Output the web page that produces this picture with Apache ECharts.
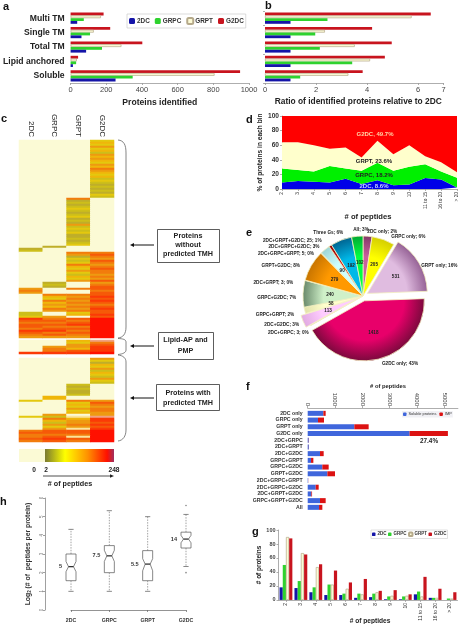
<!DOCTYPE html>
<html><head><meta charset="utf-8">
<style>html,body{margin:0;padding:0;background:#fff}#c{width:461px;height:624px}</style>
<script src="https://cdn.jsdelivr.net/npm/echarts@6/dist/echarts.min.js"></script>
</head><body><div id="c"></div>
<script>
// ---------- data ----------
const groupNames = ['2DC','GRPC','GRPT','G2DC'];
const typeCats = ['Soluble','Lipid anchored','Total TM','Single TM','Multi TM'];
const a2DC  = [252,13,87,61,37];
const aGRPC = [348,31,176,109,74];
const aGRPT = [807,35,285,130,170];
const aG2DC = [950,42,402,222,185];
const b2DC  = [1,1,1,1,1];
const bGRPC = [1.38,3.42,2.15,1.97,2.45];
const bGRPT = [3.27,4.12,3.52,2.35,5.75];
const bG2DC = [3.83,4.7,4.97,4.2,6.5];

// heat map rows, top to bottom; one character per column (2DC GRPC GRPT G2DC), '-' = blank
const heatRows = ('0003 0004 0003 0005 0003 0004 0002 0005 0004 0005 0004 0003 0005 0004 0006 0005 0004 0003 0004 0002 0003 0002 0001 0002 0001 0002 0001 0003 0002 '+
 '0060 0010 0020 0010 0020 0030 0020 0010 0020 0030 0010 0020 0010 0050 0020 0030 0020 0030 0010 0010 0020 0010 0020 0030 '+
 '0100 1000 2000 '+
 '0066 0057 0016 0035 0027 0036 0065 0046 0037 0056 0036 0025 0046 0035 0057 '+
 '0105 0206 0107 5067 6006 5007 '+
 '0667 0458 0367 0658 0467 0556 0467 0658 0567 2037 2048 3507 '+
 '8679 7769 6679 7789 7669 6779 8869 7679 6769 5559 ---- '+
 '004a 0036 0057 0558 0648 0678 8889 ---- ---- '+
 '0005 0003 0001 0004 0003 0005 0002 0004 0003 0002 0005 0003 0002 '+
 '0020 0010 0020 0010 0010 0020 0400 0400 '+
 '3065 0037 0046 0035 0056 0036 0045 0505 32ba '+
 '0648 0458 0257 0568 0357 05b8 6779 7779 6669 67b9 7879 6769').split(' ');
const heatLevels = '0123456789ab';
const heatColors = ['#FBFAD5','#BFAE2A','#CDBE1A','#E4C80E','#EFB60A','#EE9A10','#F27C0C','#F65A08','#FB3A06','#FF1000','#F0A080','#FBE49A'];

const binCats = ['2','3','4','5','6','7','8','9','10','11 to 15','16 to 20','> 20'];
const d2DC  = [9,11,10,9,14,7,12,5,6,15,13,2];
const dGRPC = [19,15,14,22.5,14,18,24,20,24.5,19,11,13.5];
const dGRPT = [36,38,36,23.5,29,18,30,22.5,29.5,11,12.5,7.5];
const dG2DC = [36,36,40,45,43,57,34,52.5,40,55,63.5,77];
const dNotes = ['G2DC, 49.7%','GRPT, 23.6%','GRPC, 18.2%','2DC, 8.6%'];

const pieNames = ['2DC only','GRPC only','GRPT only','G2DC only','2DC+GRPC','2DC+G2DC','GRPC+GRPT','GRPC+G2DC','2DC+GRPT','GRPT+G2DC','2DC+GRPC+GRPT','2DC+GRPC+G2DC','2DC+GRPT+G2DC','Three Gs','All'];
const pieValues = [81,205,531,1418,3,113,58,240,3,279,5,90,25,192,102];
const pieCaptions = ['2DC only; 2%','GRPC only; 6%','GRPT only; 16%','G2DC only; 43%','2DC+GRPC; 3; 0%','2DC+G2DC; 3%','GRPC+GRPT; 2%','GRPC+G2DC; 7%','2DC+GRPT; 3; 0%','GRPT+G2DC; 8%','2DC+GRPC+GRPT; 5; 0%','2DC+GRPC+G2DC; 3%','2DC+GRPT+G2DC; 25; 1%','Three Gs; 6%','All; 3%'];

const setCats = ['2DC only','GRPC only','GRPT only','G2DC only','2DC+GRPC','2DC+GRPT','2DC+G2DC','GRPC+GRPT','GRPC+G2DC','GRPT+G2DC','2DC+GRPC+GRPT','2DC+GRPC+G2DC','2DC+GRPT+G2DC','GRPC+GRPT+G2DC','All'];
const fSoluble = [573,378,1707,3732,37,40,450,122,536,720,15,293,134,450,415];
const fIMP     = [85,220,525,1402,8,5,135,85,232,280,5,109,26,208,121];

const g2DC  = [18,17,11,7,7,3,4,1,1,8,3,0];
const gGRPC = [50,27,18,22,9,9,9,5,5,12,3,2];
const gGRPT = [90,67,47,22,16,8,11,6,6,5,3,2];
const gG2DC = [88,65,51,42,25,30,13,14,8,33,16,11];

// pos, low, q1, notch low, median, notch high, q3, high
const boxData = [
 [1,1,1.57,2.05,2.32,2.6,3,4.32],
 [2,1,2,2.6,2.9,3.2,3.45,5.32],
 [3,1,1.57,2.1,2.46,2.75,3.18,5],
 [4,2.33,3.32,3.6,3.8,4,4.17,5.12]
];
const boxOutliers = [[4,5.6],[4,2]];
const boxMedianText = ['5','7.5','5.5','14'];

// ---------- styles and layout ----------
const FF = '"Liberation Sans", Arial, sans-serif';
const barCol = {'2DC':'#1414A8','GRPC':'#2ED22E','GRPT':'#FDFBD6','G2DC':'#C8141E'};
const areaCol = {'2DC':'#0000E8','GRPC':'#00F000','GRPT':'#FFFFCC','G2DC':'#FF0000'};
const pieStyles = [['#C8609C','#6E2C58'],['#FFFF00','#C8C000'],['#E0BCE0','#804880'],['#E8006A','#5C0C30'],['#999','#666'],['#FFCCFF','#D8A0D8'],['#FFFFCC','#D8D8A0'],['#CFF0C8','#4C6C50'],['#999','#666'],['#FF9900','#B86A00'],['#CCC','#888'],['#CCFFFF','#90C8C8'],['#D81010','#800808'],['#00B8E8','#004C78'],['#00FF40','#009030']];
const pieExploded = {'GRPT only':5,'G2DC only':5,'2DC+G2DC':4};
const PC = {x:363,y:296,r:60};
const pieCaptionPos = [[382.3,231.3],[408.3,236.7],[439.3,265.3],[400,363.7],[288.3,333],[281.7,324.7],[275,315],[276.7,297.3],[273.3,282.3],[280.7,266],[286,253.3],[294,246.3],[292.3,240.7],[328.3,233],[361,229.7]];
const dNotePos = [[375,134],[374,161],[374,175],[374,186]];
const dNoteCol = ['#FFD8A8','#222','#222','#C8D0FF'];

function barSeries(names, arrays, xi, yi, bw){
  return names.map((n,i)=>({
    name:n,type:'bar',xAxisIndex:xi,yAxisIndex:yi,data:arrays[i],barWidth:bw,barGap:0,
    itemStyle:{color:barCol[n],borderColor:n==='GRPT'?'#B5A98A':barCol[n],borderWidth:n==='GRPT'?0.7:0},
    silent:true
  }));
}
const axisGray = {lineStyle:{color:'#999',width:0.8}};
function numAxis(grid,opt){
  return Object.assign({type:'value',gridIndex:grid,splitLine:{show:false},axisLine:{show:true,...axisGray},
    axisTick:{show:true,length:2,...axisGray},axisLabel:{fontSize:7.5,color:'#444',margin:3,fontFamily:FF,formatter:v=>String(v)}},opt);
}
function catAxis(grid,cats,opt){
  return Object.assign({type:'category',gridIndex:grid,data:cats,axisLine:{show:true,...axisGray},
    axisTick:{show:true,length:2,...axisGray},axisLabel:{fontSize:5,color:'#333',margin:2,fontFamily:FF,interval:0}},opt);
}
function T(x,y,text,size,fill,align,weight){
  return {type:'text',silent:true,z:50,style:{x,y,text,fill:fill||'#222',font:(weight||'bold')+' '+size+'px '+FF,align:align||'center',verticalAlign:'middle'}};
}
function L(x1,y1,x2,y2,c,w){return {type:'line',silent:true,shape:{x1,y1,x2,y2},style:{stroke:c||'#222',lineWidth:w||1}};}
function B(x1,y1,cpx1,cpy1,cpx2,cpy2,x2,y2){return {type:'bezierCurve',silent:true,shape:{x1,y1,cpx1,cpy1,cpx2,cpy2,x2,y2},style:{stroke:'#666',lineWidth:0.8,fill:null}};}
function arrowLeft(x1,x2,y){return [L(x1,y,x2+2,y,'#111',1),{type:'polygon',silent:true,shape:{points:[[x2,y],[x2+4,y-2],[x2+4,y+2]]},style:{fill:'#111'}}];}
function box(x,y,w,h){return {type:'rect',silent:true,shape:{x:x+.5,y:y+.5,width:w,height:h},style:{fill:'#fff',stroke:'#333',lineWidth:0.8}};}

const heatData=[];
heatRows.forEach((r,row)=>{for(let c=0;c<4;c++){const l=heatLevels.indexOf(r[c]);if(l>=0)heatData.push([c,row,l]);}});

const pieData = pieNames.map((n,i)=>({
  name:n,value:pieValues[i],selected:n in pieExploded,selectedOffset:pieExploded[n]||0,
  itemStyle:{color:{type:'radial',global:true,x:PC.x,y:PC.y,r:PC.r+6,colorStops:[{offset:0,color:pieStyles[i][0]},{offset:0.6,color:pieStyles[i][0]},{offset:1,color:pieStyles[i][1]}]}},
  label:{show:pieValues[i]>=50}
}));

const option = {
  animation:false,backgroundColor:'#fff',textStyle:{fontFamily:FF},
  grid:[
    {left:69,top:11,width:180,height:72},
    {left:265,top:11,width:178.5,height:72},
    {left:19,top:140,width:95,height:302},
    {left:282,top:116,width:175,height:73},
    {left:307.7,top:410,width:150.2,height:100.7},
    {left:278.5,top:530,width:179,height:75},
    {left:71,top:498,width:115,height:112}
  ],
  xAxis:[
    numAxis(0,{min:0,max:1000,interval:200,name:'Proteins identified',nameLocation:'middle',nameGap:15,nameTextStyle:{fontWeight:'bold',fontSize:8.6,color:'#222'}}),
    numAxis(1,{min:0,max:7,interval:2,name:'Ratio of identified proteins relative to 2DC',nameLocation:'middle',nameGap:15,nameTextStyle:{fontWeight:'bold',fontSize:8.4,color:'#222',padding:[0,0,0,8]}}),
    {type:'category',gridIndex:2,position:'top',data:groupNames,axisLine:{show:false},axisTick:{show:false},axisLabel:{rotate:90,fontSize:8,color:'#222',margin:3,interval:0}},
    catAxis(3,binCats,{boundaryGap:false,axisLabel:{rotate:90,fontSize:4.8,color:'#333',margin:3,interval:0},name:'# of peptides',nameLocation:'middle',nameGap:13,nameTextStyle:{fontWeight:'bold',fontSize:7.6,color:'#222',padding:[0,0,0,-3]}}),
    numAxis(4,{position:'top',offset:2,min:0,max:5500,interval:1000,axisLabel:{rotate:90,fontSize:6,color:'#444',margin:2,showMaxLabel:false,formatter:v=>String(v)}}),
    catAxis(5,binCats,{axisLabel:{rotate:90,fontSize:5,color:'#333',margin:3,interval:0},axisTick:{show:true,alignWithLabel:true,length:2,...axisGray}}),
    {type:'value',gridIndex:6,min:1,max:4,interval:1,offset:4,splitLine:{show:false},axisLine:{show:true,lineStyle:{color:'#666',width:0.7}},axisTick:{show:true,length:2,lineStyle:{color:'#666',width:0.7}},axisLabel:{fontSize:5.2,fontWeight:'bold',color:'#333',margin:4,formatter:v=>groupNames[v-1]||''}}
  ],
  yAxis:[
    {type:'category',gridIndex:0,data:typeCats,axisLine:{show:false},axisTick:{show:false},axisLabel:{fontSize:8.6,fontWeight:'bold',color:'#222',margin:6,interval:0}},
    {type:'category',gridIndex:1,data:typeCats,axisLine:{show:false},axisTick:{show:true,length:2,...axisGray},axisLabel:{show:false}},
    {type:'category',gridIndex:2,inverse:true,data:heatRows.map((r,i)=>i),show:false},
    numAxis(3,{min:0,max:100,interval:20,axisLabel:{fontSize:6.6,fontWeight:'bold',color:'#333',margin:3},name:'% of proteins in each bin',nameLocation:'middle',nameGap:17,nameTextStyle:{fontSize:6.6,fontWeight:'bold',color:'#222'}}),
    catAxis(4,setCats,{inverse:true,axisLine:{show:false},axisTick:{show:false},axisLabel:{fontSize:5.2,fontWeight:'bold',color:'#333',margin:5,interval:0}}),
    numAxis(5,{min:0,max:100,interval:20,axisLabel:{fontSize:5.5,fontWeight:'bold',color:'#444',margin:3},name:'# of proteins',nameLocation:'middle',nameGap:14,nameTextStyle:{fontSize:6.4,fontWeight:'bold',color:'#222'}}),
    {type:'value',gridIndex:6,min:0,max:6,interval:1,offset:26,splitLine:{show:false},axisLine:{show:true,lineStyle:{color:'#777',width:0.7}},axisTick:{show:true,length:2,lineStyle:{color:'#777',width:0.7}},axisLabel:{rotate:90,fontSize:4.5,color:'#777',margin:1},
     name:'{a|Log}{b|2}{a| (# of  peptides per protein)}',nameLocation:'middle',nameGap:13,nameTextStyle:{rich:{a:{fontSize:6.8,fontWeight:'bold',color:'#333'},b:{fontSize:4.5,fontWeight:'bold',color:'#333',verticalAlign:'bottom'}}}}
  ],
  legend:[
    {data:groupNames,left:127,top:14,itemWidth:6,itemHeight:6,itemGap:5,padding:[3,2,3,2],borderColor:'#ccc',borderWidth:0.7,backgroundColor:'#fff',selectedMode:false,textStyle:{fontSize:6.4,fontWeight:'bold',color:'#333',padding:[0,0,0,-3]}},
    {data:groupNames,left:371,top:530,width:89,itemWidth:3.5,itemHeight:3.5,itemGap:1.5,padding:[1.5,1,1.5,1],borderColor:'#ccc',borderWidth:0.6,backgroundColor:'#fff',selectedMode:false,textStyle:{fontSize:4.5,fontWeight:'bold',color:'#333',padding:[0,0,0,-3]}},
    {data:['Soluble proteins','IMP'],left:402,top:411,itemWidth:3.5,itemHeight:3.5,itemGap:3,padding:[1.2,1,1.2,1],backgroundColor:'#f1f1f5',selectedMode:false,textStyle:{fontSize:3.9,color:'#333',padding:[0,0,0,-3]}}
  ],
  visualMap:{show:false,type:'piecewise',seriesIndex:8,dimension:2,pieces:heatColors.map((c,i)=>({value:i,color:c}))},
  series:[
    // horizontal bars stack upward from the last series, so panels a and b list G2DC first
    ...barSeries(groupNames.slice().reverse(),[aG2DC,aGRPT,aGRPC,a2DC],0,0,2.8),
    ...barSeries(groupNames.slice().reverse(),[bG2DC,bGRPT,bGRPC,b2DC],1,1,2.8),
    {type:'heatmap',xAxisIndex:2,yAxisIndex:2,data:heatData,silent:true,itemStyle:{borderWidth:0},emphasis:{disabled:true}},
    ...groupNames.map((n,i)=>({name:n,type:'line',xAxisIndex:3,yAxisIndex:3,stack:'d',showSymbol:false,symbol:'none',silent:true,
      data:[d2DC,dGRPC,dGRPT,dG2DC][i],lineStyle:{width:0},areaStyle:{color:areaCol[n],opacity:1},itemStyle:{color:barCol[n]}})),
    {type:'pie',center:[PC.x,PC.y],radius:[0,PC.r],startAngle:90,clockwise:true,selectedMode:'multiple',selectedOffset:5,silent:true,
      data:pieData,itemStyle:{borderColor:'#F4F0C0',borderWidth:0.8},
      label:{position:'inside',formatter:'{c}',fontSize:4.6,fontWeight:'bold',color:'#222'},labelLine:{show:false},
      select:{itemStyle:{borderColor:'#F4F0C0',borderWidth:0.8}},emphasis:{disabled:true}},
    {name:'Soluble proteins',type:'bar',stack:'f',xAxisIndex:4,yAxisIndex:4,data:fSoluble,barWidth:5,itemStyle:{color:'#3F66DC'},silent:true},
    {name:'IMP',type:'bar',stack:'f',xAxisIndex:4,yAxisIndex:4,data:fIMP,barWidth:5,itemStyle:{color:'#DC1212'},silent:true},
    ...barSeries(groupNames,[g2DC,gGRPC,gGRPT,gG2DC],5,5,3.2),
    {type:'custom',xAxisIndex:6,yAxisIndex:6,clip:false,silent:true,data:boxData,encode:{x:0,y:[1,2,3,4,5,6,7]},
      renderItem(params,api){
        const v=i=>api.value(i), x=v(0), P=y=>api.coord([x,y]);
        const cx=P(v(4))[0], yl=P(v(1))[1], y1=P(v(2))[1], n1=P(v(3))[1], m=P(v(4))[1], n2=P(v(5))[1], y3=P(v(6))[1], yh=P(v(7))[1];
        const hw=5, nw=2.5, cw=2.6, s={stroke:'#555',lineWidth:0.7,fill:null};
        const dash={stroke:'#666',lineWidth:0.6,lineDash:[1.5,1.2],fill:null};
        return {type:'group',children:[
          {type:'line',shape:{x1:cx,y1:y3,x2:cx,y2:yh},style:dash},
          {type:'line',shape:{x1:cx,y1:y1,x2:cx,y2:yl},style:dash},
          {type:'line',shape:{x1:cx-cw,y1:yh,x2:cx+cw,y2:yh},style:s},
          {type:'line',shape:{x1:cx-cw,y1:yl,x2:cx+cw,y2:yl},style:s},
          {type:'polygon',shape:{points:[[cx-hw,y1],[cx+hw,y1],[cx+hw,n1],[cx+nw,m],[cx+hw,n2],[cx+hw,y3],[cx-hw,y3],[cx-hw,n2],[cx-nw,m],[cx-hw,n1]]},style:{stroke:'#555',lineWidth:0.7,fill:'#fff'}},
          {type:'line',shape:{x1:cx-nw,y1:m,x2:cx+nw,y2:m},style:{stroke:'#111',lineWidth:1.1}},
          {type:'text',style:{x:cx-hw-4,y:m,text:boxMedianText[params.dataIndex],font:'bold 5.6px '+FF,fill:'#333',align:'right',verticalAlign:'middle'}}
        ]};
      }},
    {type:'scatter',xAxisIndex:6,yAxisIndex:6,data:boxOutliers,symbolSize:1.6,itemStyle:{color:'#666'},silent:true}
  ],
  graphic:{elements:[
    T(3,7,'a',11,'#111','left'),T(265,6,'b',11,'#111','left'),T(1,119,'c',11,'#111','left'),
    T(246,120,'d',11,'#111','left'),T(246,233,'e',11,'#111','left'),T(246,387,'f',11,'#111','left'),
    T(252,532,'g',11,'#111','left'),T(0,502,'h',11,'#111','left'),
    // braces, arrows and boxes of panel c
    B(118,140,124,140.5,126,145,126,153),L(126,153,126,327,'#666',0.8),B(126,327,126,334,123,337.5,118,338),
    B(118,338.5,123,338.7,126,339.5,126,342),L(126,342,126,350,'#666',0.8),B(126,350,126,352.5,123,354,118,354.5),
    B(118,355,123,355.5,126,358,126,362),L(126,362,126,430,'#666',0.8),B(126,430,126,436,123,440.5,118,441),
    ...arrowLeft(154,130,245),...arrowLeft(154,130,346),...arrowLeft(154,130,398),
    box(157,229,62,33),T(188,236,'Proteins',7.2),T(188,245,'without',7.2),T(188,254,'predicted TMH',7.2),
    box(158,332,55,27),T(185.5,340,'Lipid-AP and',7.2),T(185.5,351,'PMP',7.2),
    box(156,384,63,26),T(188,393,'Proteins with',7.2),T(188,403,'predicted TMH',7.2),
    // colour scale
    {type:'rect',silent:true,shape:{x:19,y:449,width:26,height:13},style:{fill:heatColors[0]}},
    {type:'rect',silent:true,shape:{x:45,y:449,width:69,height:13},style:{fill:{type:'linear',x:0,y:0,x2:1,y2:0,colorStops:[{offset:0,color:'#7A7A30'},{offset:0.29,color:'#FFFF00'},{offset:0.62,color:'#FF9000'},{offset:0.9,color:'#FF1000'},{offset:1,color:'#A03060'}]}}},
    T(34,470,'0',6.6),T(46,470,'2',6.6),T(114,470,'248',6.6),
    L(43,476,112,476,'#222',0.8),{type:'polygon',silent:true,shape:{points:[[114,476],[110,474.3],[110,477.7]]},style:{fill:'#222'}},
    T(70,484,'# of peptides',7.2),
    // notes
    ...dNotes.map((t,i)=>T(dNotePos[i][0],dNotePos[i][1],t,6,dNoteCol[i])),
    ...pieCaptions.map((t,i)=>T(pieCaptionPos[i][0],pieCaptionPos[i][1],t,4.7)),
    T(388,386,'# of peptides',5.8),T(429,441,'27.4%',6.4),
    T(370,621,'# of peptides',6.6)
  ]}
};
const chart = echarts.init(document.getElementById('c'),null,{renderer:'canvas'});
chart.setOption(option);
</script></body></html>
